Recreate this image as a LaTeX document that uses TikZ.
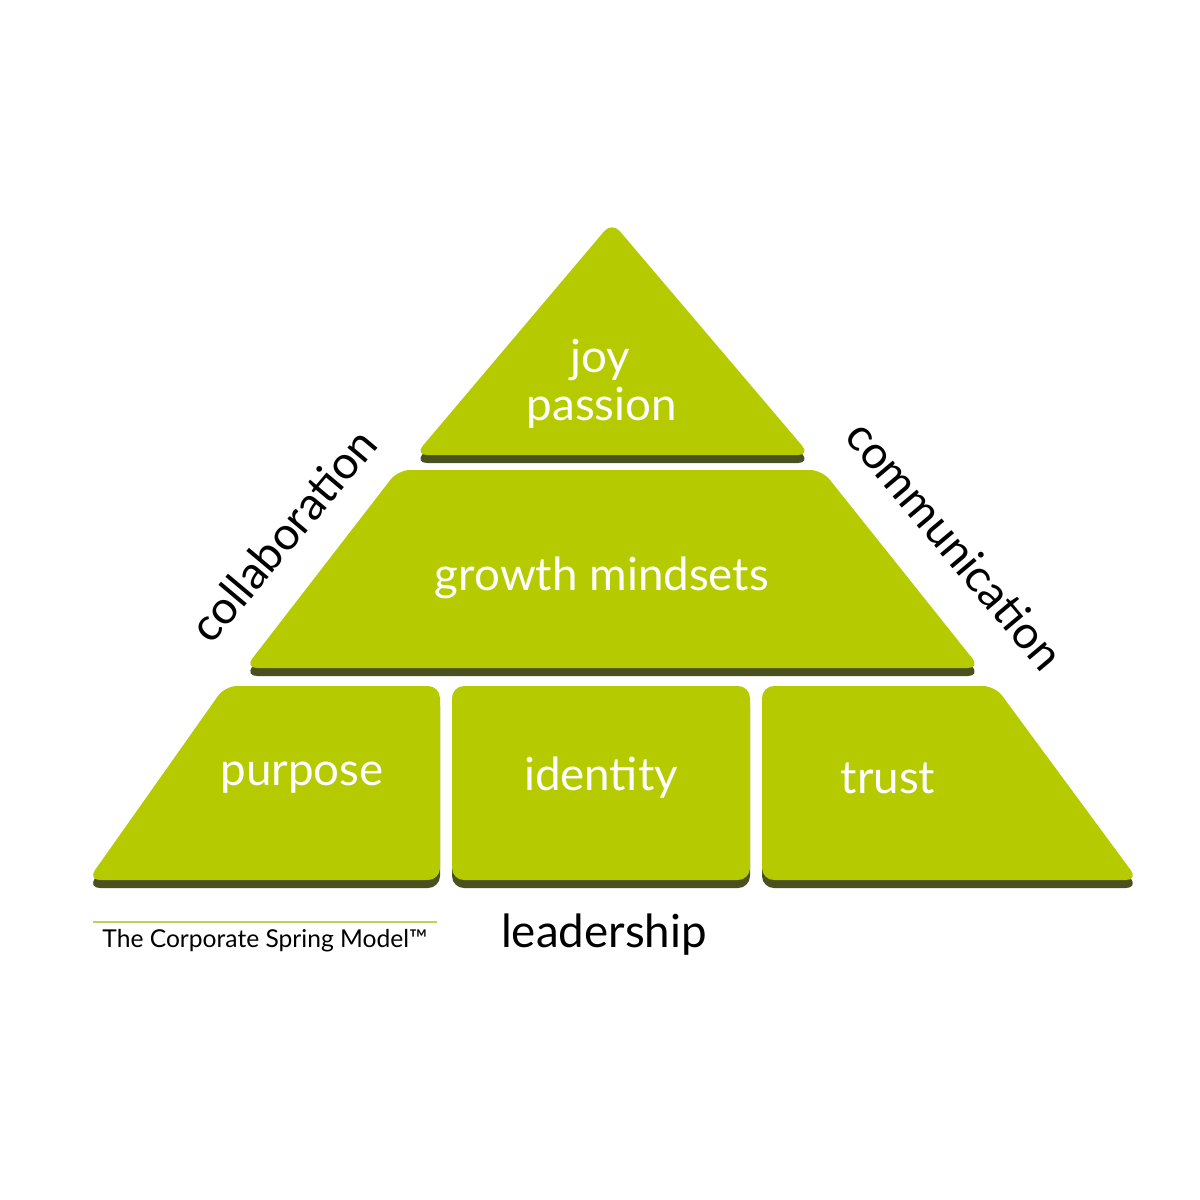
\documentclass[tikz,border=0pt]{standalone}
\usepackage{fontspec}
\setmainfont{Lato}
\usetikzlibrary{positioning}
\definecolor{springgreen}{RGB}{181,203,0}
\definecolor{springshadow}{RGB}{74,80,32}
\definecolor{springline}{RGB}{190,210,90}
\tikzset{
  block/.style={fill=springgreen,rounded corners=0.12cm},
  blockshadow/.style={fill=springshadow,rounded corners=0.12cm},
  blocklabel/.style={text=white,font=\fontsize{13}{15}\selectfont},
  sidelabel/.style={text=black,font=\fontsize{13}{15}\selectfont}
}
\newcommand{\springblock}[1]{%
  \fill[blockshadow,yshift=-0.08cm] #1;
  \fill[block] #1;}
\begin{document}
\begin{tikzpicture}[y=-1cm]
\useasboundingbox (0,0) rectangle (12,12);
% top
\springblock{(6.12,2.22) -- (8.1,4.55) -- (4.15,4.55) -- cycle}
% middle
\springblock{(3.98,4.70) -- (8.22,4.70) -- (9.8,6.68) -- (2.45,6.68) -- cycle}
% bottom row
\springblock{(2.25,6.86) -- (4.40,6.86) -- (4.40,8.80) -- (0.88,8.80) -- cycle}
\springblock{(4.52,6.86) -- (7.50,6.86) -- (7.50,8.80) -- (4.52,8.80) -- cycle}
\springblock{(7.62,6.86) -- (9.95,6.86) -- (11.38,8.80) -- (7.62,8.80) -- cycle}
% labels
\node[blocklabel] (joy) at (6.0,3.60) {joy};
\node[blocklabel] (passion) at (6.02,4.08) {passion};
\node[blocklabel] (growth) at (6.02,5.78) {growth mindsets};
\node[blocklabel] (purpose) at (3.02,7.78) {purpose};
\node[blocklabel] (identity) at (6.01,7.78) {identity};
\node[blocklabel] (trust) at (8.88,7.78) {trust};
\node[sidelabel,rotate=50] (collab) at (2.83,5.35) {collaboration};
\node[sidelabel,rotate=-50] (comm) at (9.55,5.45) {communication};
\node[sidelabel] (lead) at (6.04,9.35) {leadership};
\node[font=\fontsize{7}{9}\selectfont] (model) at (2.65,9.41) {The Corporate Spring Model™};
\draw[springline,line width=0.4pt] (0.93,9.22) -- (4.37,9.22);
\end{tikzpicture}
\end{document}
